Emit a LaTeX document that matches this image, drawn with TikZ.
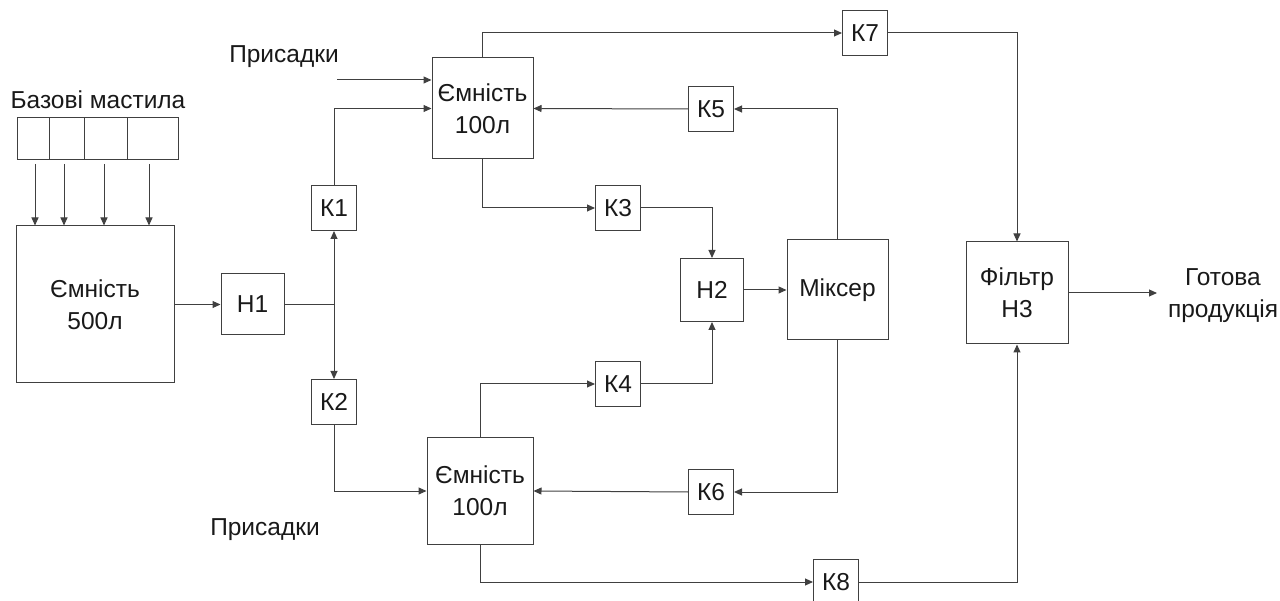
\documentclass[tikz,border=0pt]{standalone}
\usepackage{fontspec}
\setmainfont{Liberation Sans}
\usetikzlibrary{arrows.meta}
\begin{document}
\begin{tikzpicture}[x=1pt,y=-1pt,
  every node/.style={font=\fontsize{24.5}{32}\selectfont, text=black!90},
  box/.style={draw=black!75, line width=1pt, inner sep=0pt, align=center},
  kbox/.style={box, minimum width=45pt, minimum height=45pt},
  lbl/.style={inner sep=0pt, align=center},
  flow/.style={draw=black!75, line width=1pt, -{Triangle[length=8pt,width=7pt]}},
  pipe/.style={draw=black!75, line width=1pt}]
\useasboundingbox (0,0) rectangle (1280,601);

% source tanks
\node[lbl] (srclbl) at (98,100) {Базові мастила};
\node[box, minimum width=161pt, minimum height=42pt] (src) at (97.5,139) {};
\draw[pipe] (49,118) -- (49,160);
\draw[pipe] (84,118) -- (84,160);
\draw[pipe] (127,118) -- (127,160);

\node[box, minimum width=158pt, minimum height=157pt] (t500) at (95,304.5) {Ємність\\500л};

\foreach \x [count=\i] in {35,64,104,149} {
  \coordinate (s\i) at (\x,164);
  \draw[flow] (s\i) -- (s\i |- t500.north);
}

% nodes
\node[box, minimum width=63pt, minimum height=61pt] (h1) at (252.5,304.5) {Н1};
\node[kbox] (k1) at (334,208) {К1};
\node[kbox] (k2) at (334,402) {К2};
\node[box, minimum width=101pt, minimum height=101pt] (t1) at (482.5,108.5) {Ємність\\100л};
\node[box, minimum width=106pt, minimum height=106pt] (t2) at (480,491) {Ємність\\100л};
\node[kbox] (k3) at (618,208) {К3};
\node[kbox] (k4) at (618,384) {К4};
\node[kbox] (k5) at (711,109) {К5};
\node[kbox] (k6) at (711,492) {К6};
\node[kbox] (k7) at (865,33) {К7};
\node[kbox] (k8) at (836,582) {К8};
\node[box, minimum width=63pt, minimum height=63pt] (h2) at (712,290) {Н2};
\node[box, minimum width=101pt, minimum height=100pt] (mix) at (837.5,290) {Міксер};
\node[box, minimum width=102pt, minimum height=102pt] (filt) at (1017,293) {Фільтр\\Н3};

\node[lbl] (pr1) at (284,57) {Присадки};
\node[lbl] (pr2) at (265,530) {Присадки};
\node[lbl] (out) at (1223,296) {Готова\\продукція};

% connectors
\coordinate (br) at (334,304.5);
\coordinate (p1) at (337,80);
\coordinate (outend) at (1157,293);

\draw[flow] (t500.east) -- (h1.west);
\draw[pipe] (h1.east) -- (br);
\draw[flow] (br) -- (k1.south);
\draw[flow] (br) -- (k2.north);
\draw[flow] (k1.north) |- (t1.west);
\draw[flow] (p1) -- (p1 -| t1.west);
\draw[flow] (k5.west) -- (t1.east);
\draw[flow] (mix.north) |- (k5.east);
\draw[flow] (t1.south) |- (k3.west);
\draw[flow] (k3.east) -| (h2.north);
\draw[flow] (h2.east) -- (mix.west);
\draw[flow] (t1.north) |- (k7.west);
\draw[flow] (k7.east) -| (filt.north);
\draw[flow] (k2.south) |- (t2.west);
\draw[flow] (t2.north) |- (k4.west);
\draw[flow] (k4.east) -| (h2.south);
\draw[flow] (mix.south) |- (k6.east);
\draw[flow] (k6.west) -- (t2.east);
\draw[flow] (t2.south) |- (k8.west);
\draw[flow] (k8.east) -| (filt.south);
\draw[flow] (filt.east) -- (outend);
\end{tikzpicture}
\end{document}
